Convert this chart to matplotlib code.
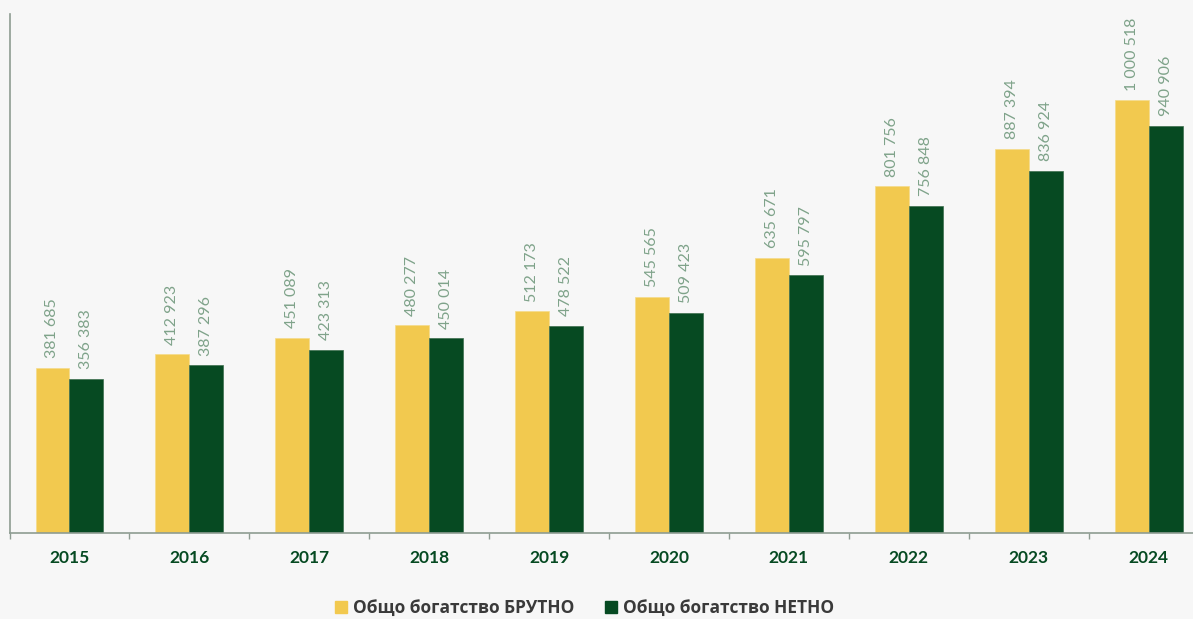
import matplotlib.pyplot as plt
import numpy as np
from matplotlib.patches import Patch

# Данни (общо богатство, лв.)
years = ['2015', '2016', '2017', '2018', '2019', '2020', '2021', '2022', '2023', '2024']
gross = [381685, 412923, 451089, 480277, 512173, 545565, 635671, 801756, 887394, 1000518]
net = [356383, 387296, 423313, 450014, 478522, 509423, 595797, 756848, 836924, 940906]
legend_labels = ['Общо богатство БРУТНО', 'Общо богатство НЕТНО']

c_gross = '#F2C94F'
c_net = '#064A22'
c_label = '#7FA38A'
bg = '#F7F7F7'

def fmt(v):
    return f'{v:,}'.replace(',', ' ')

fig = plt.figure(figsize=(11.93, 6.19), dpi=100, facecolor=bg)
ax = fig.add_axes([9.5 / 1193, 86 / 619, 1183.5 / 1193, 519 / 619])
ax.set_facecolor(bg)

x = np.arange(len(years))
w = 0.283
b1 = ax.bar(x - w / 2, gross, w, color=c_gross, edgecolor='#f5dc8a', linewidth=0.5)
b2 = ax.bar(x + w / 2, net, w, color=c_net, edgecolor='#3d6e4e', linewidth=0.5)

for bars, vals in [(b1, gross), (b2, net)]:
    for b, v in zip(bars, vals):
        ax.annotate(fmt(v), (b.get_x() + b.get_width() / 2, v), xytext=(0, 7),
                    textcoords='offset points', rotation=90, ha='center', va='bottom',
                    fontsize=11.5, color=c_label, family='Lato', fontweight='normal')

ax.set_xlim(-0.5, 9.37)
ax.set_ylim(0, 1200000)
ax.set_yticks([])

# тикчета между групите, етикети в центъра
ax.set_xticks(np.arange(-0.5, 9.5, 1.0))
ax.set_xticklabels([])
ax.set_xticks(x, minor=True)
ax.set_xticklabels(years, minor=True, fontsize=12.5, fontweight='bold', color=c_net, family='Lato')
ax.tick_params(axis='x', which='major', length=4, color='#8e9c92', width=1)
ax.tick_params(axis='x', which='minor', length=0, pad=12)

for s in ['top', 'right']:
    ax.spines[s].set_visible(False)
for s in ['left', 'bottom']:
    ax.spines[s].set_color('#8e9c92')
    ax.spines[s].set_linewidth(1.2)

handles = [Patch(color=c_gross), Patch(color=c_net)]
leg = fig.legend(handles, legend_labels, loc='lower center', bbox_to_anchor=(0.49, -0.022), ncol=2,
                 frameon=False, handlelength=0.7, handleheight=0.7, handletextpad=0.3,
                 columnspacing=1.8, prop={'family': 'Open Sans', 'weight': 'bold', 'size': 12.5})
for t in leg.get_texts():
    t.set_color('#3a3a3a')

fig.savefig('out.png', dpi=100, facecolor=bg)
